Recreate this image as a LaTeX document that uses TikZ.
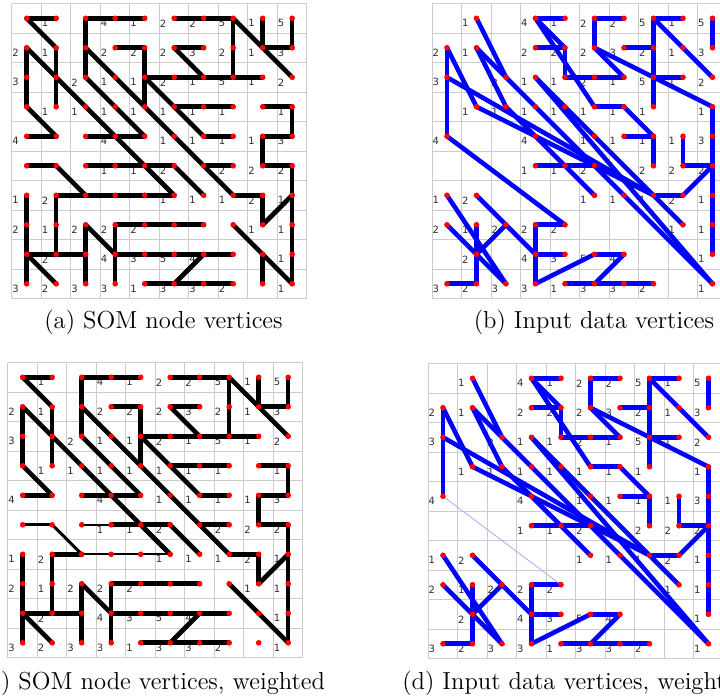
\documentclass[tikz,border=0pt]{standalone}
\usepackage{fontspec}
\newfontfamily\labfont{DejaVu Sans}
\pgfdeclarelayer{back}
\pgfdeclarelayer{mid}
\pgfsetlayers{back,mid,main}
\definecolor{gridline}{RGB}{204,204,204}
\definecolor{labcol}{RGB}{45,45,45}
\definecolor{faintblue}{RGB}{170,170,240}
\tikzset{
  somdot/.style={circle, fill=red, draw=none, inner sep=0pt, minimum size=2.8pt},
  cellnum/.style={anchor=west, inner sep=0pt, font=\labfont\fontsize{5}{5}\selectfont, text=labcol},
  blackedge/.style={black, line width=2.3pt, line cap=round, line join=round},
  midedge/.style={black, line width=1.5pt, line cap=round},
  thinedge/.style={black, line width=1.0pt, line cap=round},
  blueedge/.style={blue, line width=2.3pt, line cap=round, line join=round},
  gridstyle/.style={gridline, line width=0.45pt},
  captext/.style={font=\fontsize{12.3}{14}\selectfont, inner sep=0pt},
}
% hit counts of the cells: row/column/count
\def\cellcounts{0/1/1,0/3/4,0/4/1,0/5/2,0/6/2,0/7/5,0/8/1,0/9/5,
1/0/2,1/1/1,1/3/2,1/4/2,1/5/2,1/6/3,1/7/2,1/8/1,1/9/3,
2/0/3,2/2/2,2/3/1,2/4/1,2/5/2,2/6/1,2/7/5,2/8/1,2/9/2,
3/1/1,3/2/1,3/3/1,3/4/1,3/5/1,3/6/1,3/7/1,3/9/1,
4/0/4,4/3/4,4/5/1,4/6/1,4/7/1,4/8/1,4/9/3,
5/3/1,5/4/1,5/5/2,5/7/2,5/8/2,5/9/2,
6/0/1,6/1/2,6/5/1,6/6/1,6/7/1,6/8/2,6/9/1,
7/0/2,7/1/1,7/2/2,7/3/2,7/4/2,7/8/1,7/9/1,
8/1/2,8/3/4,8/4/3,8/5/5,8/6/4,8/9/1,
9/0/3,9/1/2,9/2/3,9/3/3,9/4/1,9/5/3,9/6/3,9/7/2,9/9/1}
% edges of the SOM node graph shared by both SOM panels (start/end, row-column)
\def\somedges{0-0/0-1,0-2/0-4,0-5/0-7,1-3/1-4,1-5/1-6,1-8/1-9,2-4/2-8,
3-5/3-7,3-8/3-9,4-0/4-1,4-2/4-4,4-6/4-7,4-8/4-9,5-6/5-7,5-8/5-9,
5-3/5-5,6-1/6-2,6-7/6-8,7-3/7-6,8-0/8-2,8-3/8-7,9-4/9-7,
1-0/3-0,6-0/9-0,1-1/3-1,6-1/8-1,0-2/2-2,7-2/9-2,7-3/9-3,1-4/3-4,0-7/2-7,
0-8/1-8,4-8/5-8,6-8/7-8,0-9/1-9,3-9/4-9,5-9/9-9,
0-0/1-1,1-0/6-5,1-2/6-7,2-2/4-4,2-4/4-6,0-7/2-9,1-5/2-6,3-0/4-1,
5-4/6-5,5-5/6-6,7-8/6-9,7-2/8-3,7-7/9-9,8-0/9-1,8-6/9-5}
% edges of the data graph shared by both data panels
\def\dataedges{0-1/2-2,1-1/3-2,1-1/2-2,2-2/9-9,1-0/4-0,1-0/3-1,0-3/0-4,0-3/1-4,
0-3/3-5,1-3/1-4,1-4/2-4,2-4/2-6,0-5/1-5,0-5/0-6,1-5/2-6,1-5/3-9,1-6/1-7,
0-7/0-8,0-7/3-7,0-7/2-9,2-7/2-8,0-9/1-9,3-9/8-9,3-5/3-6,3-6/4-7,4-6/4-7,
4-7/5-7,4-8/5-8,5-8/5-9,6-7/6-8,6-8/5-9,6-7/7-8,5-3/5-5,3-2/6-5,6-0/9-2,
6-1/8-3,7-2/8-1,7-0/9-2,7-1/9-1,9-0/9-1,7-3/7-4,7-3/9-3,8-3/8-4,9-3/8-5,
8-5/8-6,8-6/9-5,9-4/9-7,2-0/6-7,3-1/6-7,2-3/6-7,2-3/9-9}
% grid and cell counts of one panel
\newcommand\cellgrid[1]{%
  \begin{pgfonlayer}{back}
    \foreach \k in {-0.5,0.5,...,9.5} {
      \draw[gridstyle] (\k,-0.5) -- (\k,9.5);
      \draw[gridstyle] (-0.5,\k) -- (9.5,\k);
    }
    \foreach \r/\c/\n in \cellcounts {
      \node[cellnum] (#1n\r-\c) at (\c-0.5,\r+0.17) {\n};
    }
  \end{pgfonlayer}}
\newcommand\allnodes[1]{%
  \foreach \r in {0,...,9} {\foreach \c in {0,...,9} {
    \node[somdot] (#1\r-\c) at (\c,\r) {};}}}
\newcommand\datanodes[1]{%
  \foreach \r/\c/\n in \cellcounts {\node[somdot] (#1\r-\c) at (\c,\r) {};}}
\begin{document}
\begin{tikzpicture}[x=0.5pt, y=-0.5pt]
\useasboundingbox (0,0) rectangle (720,696);

% (a) SOM node vertices
\begin{scope}[shift={(26.7,18.3)}, x=14.75pt, y=-14.75pt]
  \cellgrid{a}
  \allnodes{a}
  \begin{pgfonlayer}{mid}
    \foreach \p/\q in \somedges {\draw[blackedge] (a\p.center) -- (a\q.center);}
    \foreach \p/\q in {5-0/5-1,5-2/5-3,6-2/6-5,5-1/6-2,8-8/9-8}
      {\draw[blackedge] (a\p.center) -- (a\q.center);}
  \end{pgfonlayer}
\end{scope}

% (b) Input data vertices
\begin{scope}[shift={(447,18.3)}, x=14.75pt, y=-14.75pt]
  \cellgrid{b}
  \datanodes{b}
  \begin{pgfonlayer}{mid}
    \foreach \p/\q in \dataedges {\draw[blueedge] (b\p.center) -- (b\q.center);}
    \draw[blueedge] (b4-0.center) -- (b7-4.center);
  \end{pgfonlayer}
\end{scope}

% (c) SOM node vertices, weighted
\begin{scope}[shift={(22.7,377.3)}, x=14.75pt, y=-14.75pt]
  \cellgrid{c}
  \allnodes{c}
  \begin{pgfonlayer}{mid}
    \foreach \p/\q in \somedges {\draw[blackedge] (c\p.center) -- (c\q.center);}
    \draw[midedge] (c5-0.center) -- (c5-1.center);
    \draw[midedge] (c5-1.center) -- (c6-2.center);
    \draw[thinedge] (c5-2.center) -- (c5-3.center);
    \draw[thinedge] (c6-2.center) -- (c6-5.center);
  \end{pgfonlayer}
\end{scope}

% (d) Input data vertices, weighted
\begin{scope}[shift={(443,378.3)}, x=14.75pt, y=-14.75pt]
  \cellgrid{d}
  \datanodes{d}
  \begin{pgfonlayer}{mid}
    \foreach \p/\q in \dataedges {\draw[blueedge] (d\p.center) -- (d\q.center);}
    \draw[faintblue, line width=0.4pt] (d4-0.center) -- (d7-4.center);
  \end{pgfonlayer}
\end{scope}

\begin{scope}
  \clip (0,0) rectangle (720,696);
  \node[captext] (capa) at (163.5,322) {(a) SOM node vertices};
  \node[captext] (capb) at (594,322) {(b) Input data vertices};
  \node[captext] (capc) at (153,683) {(c) SOM node vertices, weighted};
  \node[captext] (capd) at (576,683) {(d) Input data vertices, weighted};
\end{scope}
\end{tikzpicture}
\end{document}
